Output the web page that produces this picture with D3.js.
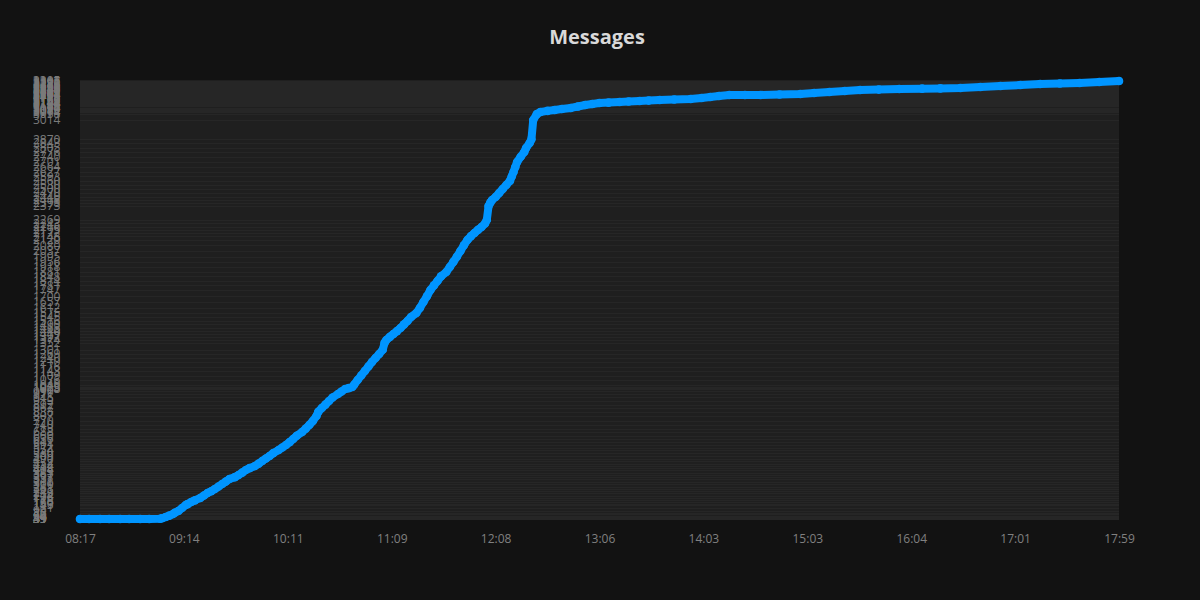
<!DOCTYPE html>
<html>
<head>
<meta charset="utf-8">
<script src="https://cdn.jsdelivr.net/npm/d3@7"></script>
<style>
    body { margin: 0; background: #121212; }
    #chart { width: 1200px; height: 600px; }
</style>
</head>
<body>
<div id="chart"></div>
<script>
// Tick labels on the time axis (evenly spaced in the original)
var timeTicks = ["08:17", "09:14", "10:11", "11:09", "12:08", "13:06", "14:03", "15:03", "16:04", "17:01", "17:59"];

// Sample times and cumulative message counts
var times = [
    "08:17", "08:22", "08:28", "08:33", "08:39", "08:44", "08:50", "08:55", "09:01", "09:02",
    "09:04", "09:06", "09:08", "09:09", "09:11", "09:13", "09:15", "09:16", "09:18", "09:20",
    "09:23", "09:25", "09:27", "09:29", "09:31", "09:33", "09:35", "09:37", "09:39", "09:42",
    "09:44", "09:46", "09:48", "09:50", "09:53", "09:55", "09:57", "09:59", "10:01", "10:03",
    "10:06", "10:08", "10:10", "10:12", "10:14", "10:16", "10:19", "10:21", "10:23", "10:25",
    "10:27", "10:28", "10:30", "10:32", "10:34", "10:36", "10:39", "10:41", "10:43", "10:45",
    "10:47", "10:48", "10:50", "10:52", "10:54", "10:56", "10:58", "11:00", "11:02", "11:04",
    "11:05", "11:06", "11:08", "11:10", "11:12", "11:14", "11:16", "11:18", "11:20", "11:23",
    "11:25", "11:27", "11:29", "11:31", "11:33", "11:35", "11:37", "11:40", "11:42", "11:44",
    "11:46", "11:48", "11:50", "11:52", "11:54", "11:56", "11:58", "12:00", "12:02", "12:03",
    "12:04", "12:05", "12:06", "12:08", "12:10", "12:12", "12:14", "12:16", "12:17", "12:18",
    "12:19", "12:20", "12:22", "12:24", "12:25", "12:27", "12:28", "12:29", "12:31", "12:33",
    "12:37", "12:41", "12:45", "12:50", "12:54", "12:58", "13:02", "13:06", "13:11", "13:17",
    "13:22", "13:28", "13:33", "13:39", "13:47", "13:56", "14:02", "14:07", "14:12", "14:18",
    "14:27", "14:36", "14:47", "14:59", "15:07", "15:16", "15:25", "15:34", "15:45", "15:57",
    "16:10", "16:20", "16:31", "16:42", "16:53", "17:04", "17:15", "17:26", "17:37", "17:48",
    "17:59"];
var counts = [
    39, 39, 39, 39, 39, 39, 39, 39, 41, 45,
    54, 64, 76, 86, 99, 121, 143, 150, 166, 178,
    196, 214, 233, 246, 263, 281, 300, 318, 337, 351,
    367, 385, 404, 418, 434, 452, 472, 490, 509, 530,
    554, 572, 591, 612, 636, 660, 688, 713, 740, 770,
    807, 838, 867, 892, 919, 945, 971, 990, 1008, 1015,
    1023, 1040, 1076, 1109, 1143, 1176, 1210, 1240, 1269, 1301,
    1352, 1374, 1397, 1419, 1440, 1463, 1490, 1516, 1545, 1575,
    1612, 1657, 1700, 1747, 1781, 1814, 1848, 1881, 1918, 1956,
    1995, 2037, 2080, 2120, 2148, 2172, 2195, 2216, 2243, 2269,
    2373, 2398, 2418, 2440, 2470, 2500, 2530, 2560, 2593, 2627,
    2664, 2701, 2740, 2776, 2805, 2843, 2870, 3014, 3058, 3074,
    3082, 3089, 3096, 3104, 3115, 3126, 3134, 3141, 3144, 3148,
    3152, 3156, 3159, 3163, 3167, 3171, 3178, 3186, 3193, 3201,
    3201, 3201, 3204, 3208, 3215, 3223, 3230, 3238, 3241, 3245,
    3248, 3250, 3253, 3260, 3268, 3275, 3283, 3286, 3290, 3297,
    3305];

var title = "Messages";

(function() {
    var margin = { top: 80, left: 80, right: 81, bottom: 80 },
        width = 1200 - margin.left - margin.right,
        height = 600 - margin.top - margin.bottom;

    var parseTime = d3.timeParse("%H:%M");
    var data = times.map(function(t, i) { return { t: parseTime(t), v: counts[i] }; });
    var tickDates = timeTicks.map(parseTime);

    var svg = d3.select("#chart")
        .append("svg")
        .attr("width", 1200)
        .attr("height", 600);

    svg.append("rect")
        .attr("width", 1200).attr("height", 600)
        .attr("fill", "#121212");

    svg.append("text")
        .attr("x", 597)
        .attr("y", 44)
        .attr("text-anchor", "middle")
        .attr("font-family", "Open Sans, sans-serif")
        .attr("font-size", 20)
        .attr("font-weight", "bold")
        .attr("fill", "#d9d9d9")
        .text(title);

    var g = svg.append("g")
        .attr("transform", "translate(" + margin.left + "," + margin.top + ")");

    // Piecewise time scale: tick labels sit at equal distances
    var xScale = d3.scaleTime()
        .domain(tickDates)
        .range(tickDates.map(function(d, i) { return i * width / (tickDates.length - 1); }));

    var yScale = d3.scaleLinear()
        .domain([d3.min(counts), d3.max(counts)])
        .range([height - 1, 1]);

    g.append("rect")
        .attr("width", width)
        .attr("height", height)
        .attr("fill", "#1f1f1f");

    // Horizontal grid at every value
    g.selectAll(".grid")
        .data(counts)
        .enter().append("line")
        .attr("class", "grid")
        .attr("x1", 0).attr("x2", width)
        .attr("y1", function(d) { return Math.round(yScale(d)) + 0.5; })
        .attr("y2", function(d) { return Math.round(yScale(d)) + 0.5; })
        .attr("stroke", "#262626")
        .attr("stroke-width", 1);

    // X axis
    var xAxis = d3.axisBottom(xScale)
        .tickValues(tickDates)
        .tickFormat(d3.timeFormat("%H:%M"))
        .tickSize(0)
        .tickPadding(14);

    var xg = g.append("g")
        .attr("transform", "translate(0," + height + ")")
        .call(xAxis);
    xg.select(".domain").remove();
    xg.selectAll("text")
        .attr("font-family", "Open Sans, sans-serif")
        .attr("font-size", 12)
        .attr("fill", "#808080");

    // Y axis: a label for every value, left aligned (they pile up as in the original)
    var yAxis = d3.axisLeft(yScale)
        .tickValues(counts)
        .tickFormat(d3.format("d"))
        .tickSize(0)
        .tickPadding(0);

    var yg = g.append("g")
        .attr("transform", "translate(-47,0)")
        .call(yAxis);
    yg.select(".domain").remove();
    yg.selectAll("text")
        .attr("text-anchor", "start")
        .attr("font-family", "Open Sans, sans-serif")
        .attr("font-size", 12)
        .attr("fill", "#7a7a7a");

    // Line and points
    var line = d3.line()
        .x(function(d) { return xScale(d.t); })
        .y(function(d) { return yScale(d.v); });

    g.append("path")
        .datum(data)
        .attr("d", line)
        .attr("fill", "none")
        .attr("stroke", "#0095ff")
        .attr("stroke-width", 8)
        .attr("stroke-linejoin", "round")
        .attr("stroke-linecap", "round");

    g.selectAll(".dot")
        .data(data)
        .enter().append("circle")
        .attr("class", "dot")
        .attr("r", 4.3)
        .attr("cx", function(d) { return xScale(d.t); })
        .attr("cy", function(d) { return yScale(d.v); })
        .attr("fill", "#0095ff");
})();
</script>
</body>
</html>
